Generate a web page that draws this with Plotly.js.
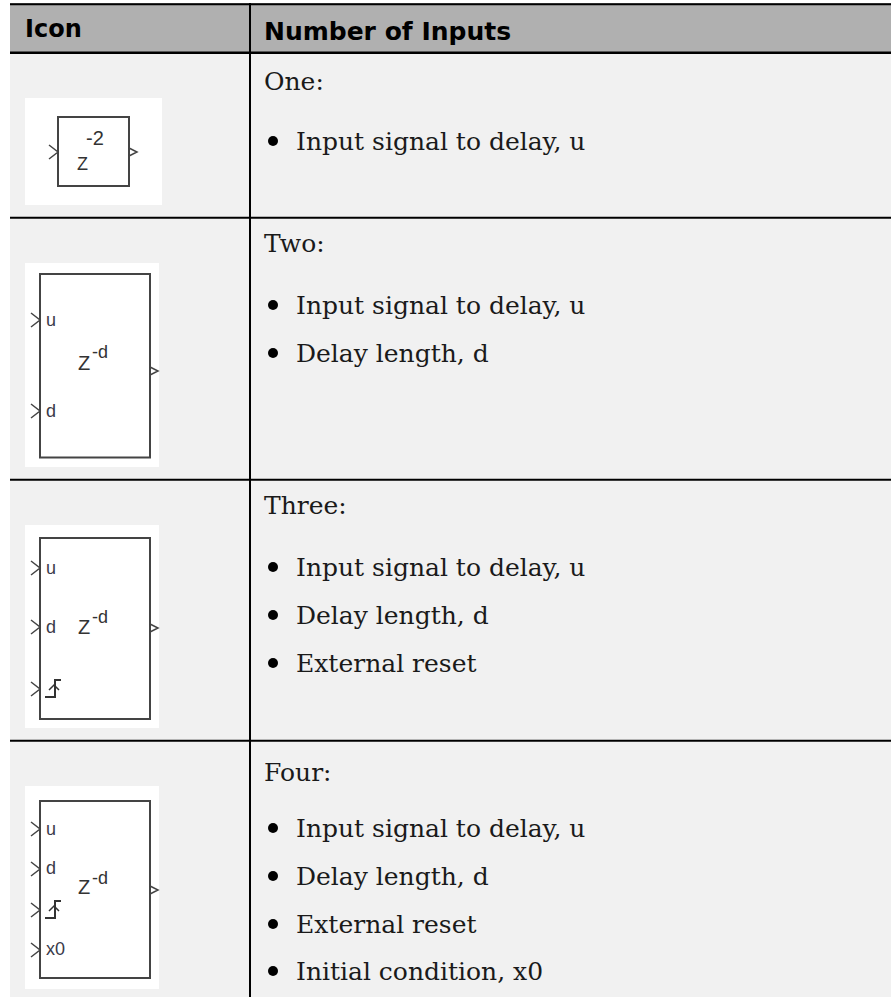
<!DOCTYPE html>
<html><head><meta charset="utf-8">
<script src="https://cdn.plot.ly/plotly-3.0.1.min.js"></script>
<style>html,body{margin:0;padding:0;background:#fff}#c{width:891px;height:997px}</style>
</head><body><div id="c"></div>
<script>
var headers = ["Icon", "Number of Inputs"];
var rowLabels = ["One:", "Two:", "Three:", "Four:"];
var inputNames = ["Input signal to delay, u", "Delay length, d", "External reset", "Initial condition, x0"];
var inputCounts = [1, 2, 3, 4];
var portLabels = ["u", "d", "step", "x0"];

var rowTop = [52.8, 217.8, 479.8, 740.8, 997];
var rowTextY = [81, 243, 505, 772];
var bulletY = [[141], [305, 353], [567, 615, 663], [828, 876, 924, 971]];
var icons = [
  {wx:[25,162], wy:[98,205],  bx:[58,129], by:[117,186], ports:[152], out:152},
  {wx:[25,159], wy:[263,467], bx:[40,150], by:[274,457.5], ports:[320,411], out:371, labelY:[320,411], z:[84,363], sup:[99,352]},
  {wx:[25,159], wy:[525,728], bx:[40,150], by:[538,719], ports:[568,627,689], out:628, labelY:[568,627,689], z:[84,627], sup:[99,617]},
  {wx:[25,159], wy:[786,989], bx:[40,150], by:[801,978], ports:[829,869,910,950], out:890, labelY:[829,868,910,949], z:[84,887], sup:[99,878]}
];

var serif = "'DejaVu Serif', serif";
var sans = "'Liberation Sans', Arial, sans-serif";
var headFont = "'DejaVu Sans', sans-serif";
var shapes = [], ann = [];
function rect(x0,y0,x1,y1,fill){shapes.push({type:'rect',x0:x0,y0:y0,x1:x1,y1:y1,fillcolor:fill,line:{width:0},layer:'below'});}
function path(d,c,w){shapes.push({type:'path',path:d,line:{color:c||'#444',width:w||1.5},fillcolor:'rgba(0,0,0,0)'});}
function line(x0,y0,x1,y1,w){shapes.push({type:'line',x0:x0,y0:y0,x1:x1,y1:y1,line:{color:'#000',width:w}});}
function text(t,x,y,size,font,color,weight){ann.push({text:t,x:x,y:y,xref:'x',yref:'y',xanchor:'left',yanchor:'middle',showarrow:false,align:'left',borderpad:0,font:{size:size,family:font,color:color||'#1a1a1a',weight:weight||400}});}

rect(10,3,891,52,'#b0b0b0');
rect(10,52,891,997,'#f1f1f1');
line(10,4.2,891,4.2,2);
for (var r=0;r<4;r++) line(10,rowTop[r],891,rowTop[r],r===0?2.5:2);
line(250,3,250,997,2);

text(headers[0],24,28.5,24,headFont,'#000',700);
text(headers[1],263,31,25,headFont,'#000',700);

var bx=[],by=[];
inputCounts.forEach(function(n,i){
  text(rowLabels[i],263,rowTextY[i],25,serif);
  for (var k=0;k<n;k++){
    bx.push(273);by.push(bulletY[i][k]);
    text(inputNames[k],295,bulletY[i][k],25,serif);
  }
  var ic=icons[i];
  rect(ic.wx[0],ic.wy[0],ic.wx[1],ic.wy[1],'#fff');
  shapes.push({type:'rect',x0:ic.bx[0],x1:ic.bx[1],y0:ic.by[0],y1:ic.by[1],line:{color:'#444',width:2}});
  ic.ports.forEach(function(p,k){
    var x=ic.bx[0];
    path('M'+(x-9)+' '+(p-7)+' L'+x+' '+p+' L'+(x-9)+' '+(p+7));
    if(i>0){
      var ly=ic.labelY[k], lab=portLabels[k];
      if(lab==='step'){
        var sx=45, sy=ly+8, t=ly-9;
        path('M'+sx+' '+sy+' L'+(sx+10)+' '+sy+' L'+(sx+10)+' '+t+' L'+(sx+16)+' '+t,'#333',2);
        path('M'+(sx+4)+' '+(ly+1)+' L'+(sx+9)+' '+(ly-4)+' L'+(sx+14)+' '+(ly+1),'#333',1.5);
      } else {
        text(lab,x+5,ly,18,sans,'#3a3a4a');
      }
    }
  });
  var xr=ic.bx[1];
  path('M'+xr+' '+(ic.out-4)+' L'+(xr+8)+' '+ic.out+' L'+xr+' '+(ic.out+4));
  if(i===0){
    text("-2",85,138,20,sans,'#333');
    text("Z",76,164,18,sans,'#333');
  } else {
    text("Z",ic.z[0]-7,ic.z[1],20,sans,'#333');
    text("-d",ic.sup[0]-8,ic.sup[1],18,sans,'#333');
  }
});

var traces=[{type:'scatter',mode:'markers',x:bx,y:by,marker:{size:10,color:'#000',line:{width:0}},hoverinfo:'skip',showlegend:false}];
Plotly.newPlot('c',traces,{
  width:891,height:997,margin:{l:0,r:0,t:0,b:0},paper_bgcolor:'#fff',plot_bgcolor:'#fff',showlegend:false,
  xaxis:{range:[0,891],visible:false,fixedrange:true},
  yaxis:{range:[997,0],visible:false,fixedrange:true},
  shapes:shapes,annotations:ann
},{displayModeBar:false,staticPlot:true});
</script></body></html>
